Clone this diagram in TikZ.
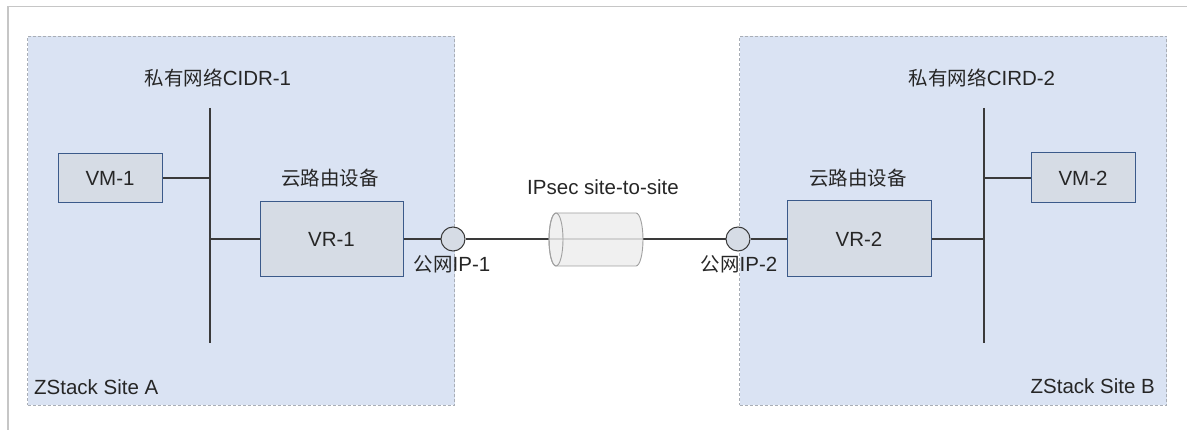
\documentclass[tikz,border=0pt]{standalone}
\usepackage{fontspec}
\setmainfont{Liberation Sans}
\newfontfamily\cjk[Scale=0.95]{Noto Sans CJK SC}
\definecolor{siteblue}{HTML}{DAE3F3}
\definecolor{dashgray}{HTML}{A9AEB6}
\definecolor{boxfill}{HTML}{D6DCE5}
\definecolor{boxborder}{HTML}{3B5A8A}
\definecolor{wiregray}{HTML}{3A3A3A}
\definecolor{textcol}{HTML}{262626}
\definecolor{framegray}{HTML}{C6C6C6}
\definecolor{cylfill}{HTML}{EDEDED}
\definecolor{cylborder}{HTML}{A0A0A0}
\begin{document}
\begin{tikzpicture}[x=1pt,y=-1pt,
  every node/.style={font=\fontsize{20.5}{23}\selectfont, text=textcol},
  site/.style={draw=dashgray, fill=siteblue, dash pattern=on 3pt off 2pt, line width=1pt, inner sep=0, anchor=north west},
  box/.style={draw=boxborder, fill=boxfill, line width=1pt, inner sep=0},
  wire/.style={draw=wiregray, line width=1.5pt},
  port/.style={circle, draw=wiregray, fill=boxfill, minimum size=24pt, inner sep=0, line width=1pt},
  lbl/.style={inner sep=0, anchor=base}]
\useasboundingbox (0,0) rectangle (1187,430);
% outer frame (top and left edges)
\coordinate (fbl) at (8,431);
\coordinate (ftl) at (8,6.5);
\coordinate (ftr) at (1188,6.5);
\draw[framegray, line width=1.5pt] (fbl) -- (ftl) -- (ftr);
% sites
\node[site, minimum width=427pt, minimum height=369pt] (siteA) at (27,36) {};
\node[site, minimum width=427pt, minimum height=369pt] (siteB) at (739,36) {};
% buses
\coordinate (b1t) at (210,108);
\coordinate (b1b) at (210,343);
\coordinate (b2t) at (984,108);
\coordinate (b2b) at (984,343);
\draw[wire] (b1t) -- (b1b);
\draw[wire] (b2t) -- (b2b);
% boxes
\node[box, minimum width=104pt, minimum height=49pt] (VM1) at (110,178) {VM-1};
\node[box, minimum width=143pt, minimum height=75pt] (VR1) at (331.5,239) {VR-1};
\node[box, minimum width=144pt, minimum height=76pt] (VR2) at (859,239) {VR-2};
\node[box, minimum width=104pt, minimum height=50pt] (VM2) at (1083,178) {VM-2};
% ports
\node[port] (P1) at (453,239) {};
\node[port] (P2) at (738,239) {};
% connectors
\draw[wire] (VM1.east) -- (VM1.east -| b1t);
\draw[wire] (VR1.west) -- (VR1.west -| b1t);
\draw[wire] (VR1.east) -- (P1.west);
\draw[wire] (P1.east) -- (P2.west);
\draw[wire] (P2.east) -- (VR2.west);
\draw[wire] (VR2.east) -- (VR2.east -| b2t);
\draw[wire] (VM2.west) -- (VM2.west -| b2t);
% tunnel cylinder
\coordinate (cylL) at (556,239.5);
\coordinate (cylR) at (636,239.5);
\filldraw[draw=cylborder, fill=cylfill, fill opacity=0.85, line width=0.9pt]
  (556,213) -- (636,213) arc[start angle=90, end angle=-90, x radius=7pt, y radius=26.5pt]
  -- (556,266) arc[start angle=270, end angle=90, x radius=7pt, y radius=26.5pt] -- cycle;
\draw[draw=cylborder, line width=0.9pt] (cylL) ellipse [x radius=7pt, y radius=26.5pt];
% labels
\node[lbl] (cidr1) at (218,86) {{\cjk 私有网络}CIDR-1};
\node[lbl] (cidr2) at (982,86) {{\cjk 私有网络}CIRD-2};
\node[lbl] (vr1lbl) at (330,186) {\cjk 云路由设备};
\node[lbl] (vr2lbl) at (858,186) {\cjk 云路由设备};
\node[lbl] (ipsec) at (603,195) {IPsec site-to-site};
\node[lbl] (ip1) at (452,272) {{\cjk 公网}IP-1};
\node[lbl] (ip2) at (739,272) {{\cjk 公网}IP-2};
\node[lbl, anchor=base west] (sAlbl) at (34,395) {ZStack Site A};
\node[lbl, anchor=base east] (sBlbl) at (1155,394) {ZStack Site B};
\end{tikzpicture}
\end{document}
